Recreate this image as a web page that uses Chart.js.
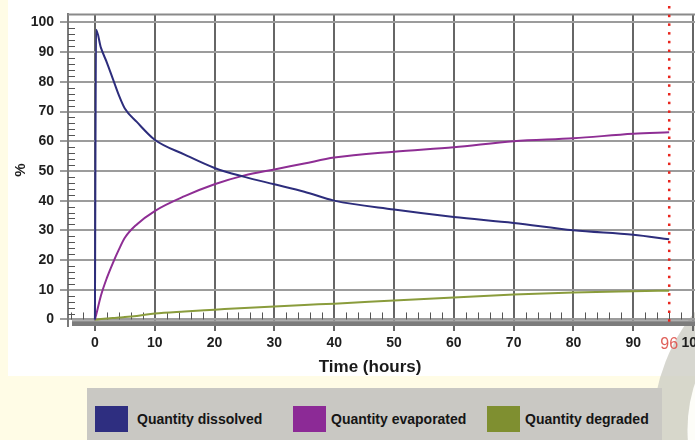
<!DOCTYPE html>
<html>
<head>
<meta charset="utf-8">
<script src="https://cdn.jsdelivr.net/npm/chart.js@4.4.0/dist/chart.umd.min.js"></script>
<style>
html, body { margin: 0; padding: 0; background: #fffce6; width: 695px; height: 440px; overflow: hidden; }
#wrap { position: relative; width: 695px; height: 440px; }
canvas { position: absolute; left: 0; top: 0; }
#legend { position: absolute; left: 87px; top: 388px; width: 575px; height: 60px; background: #c9c8c3;
          font: bold 14px "Liberation Sans", Arial, sans-serif; color: #151515; }
.sw { position: absolute; top: 18px; width: 33px; height: 26px; }
.lt { position: absolute; top: 22px; line-height: 18px; white-space: nowrap; }
</style>
</head>
<body>
<div id="wrap">
  <canvas id="myChart" width="760" height="440"></canvas>
  <div id="legend"></div>
</div>
<script>
// values
var timeHours  = [0, 0.2, 1, 2, 3, 4, 5, 7, 10, 15, 20, 25, 30, 35, 40, 50, 60, 70, 80, 90, 96];
var dissolved  = [0, 97.5, 91.5, 86.5, 81, 75.5, 71, 66.5, 60.5, 55.5, 51, 48, 45.5, 43, 40, 37, 34.5, 32.5, 30, 28.5, 27];
var evaporated = [0, 1.5, 8, 14, 19, 23.5, 27.5, 32, 36.5, 41.5, 45.5, 48.5, 50.5, 52.5, 54.5, 56.5, 58, 60, 61, 62.5, 63];
var degraded   = [0, 0, 0.15, 0.3, 0.5, 0.65, 0.8, 1.2, 2, 2.7, 3.3, 3.9, 4.4, 4.9, 5.3, 6.4, 7.4, 8.4, 9.1, 9.5, 9.7];

var seriesLabels = ['Quantity dissolved', 'Quantity evaporated', 'Quantity degraded'];
var xTicks = [0, 10, 20, 30, 40, 50, 60, 70, 80, 90, 96, 100];
var yTicks = [0, 10, 20, 30, 40, 50, 60, 70, 80, 90, 100];
var markerHour = 96;

function pts(ys) {
    return timeHours.map(function (t, i) { return {x: t, y: ys[i]}; });
}

var chartDecor = {
    id: 'chartDecor',
    beforeDraw: function (chart) {
        var c = chart.ctx;
        c.save();
        c.fillStyle = '#ffffff';
        c.fillRect(8, 0, chart.width, 376);
        // decorative ring in the corner, behind the chart
        c.beginPath();
        c.arc(838, 430, 151, 0, Math.PI * 2);
        c.fillStyle = '#fdfdf8';
        c.fill();
        c.beginPath();
        c.arc(838, 430, 168, 0, Math.PI * 2);
        c.lineWidth = 35;
        c.strokeStyle = 'rgba(205,205,196,0.8)';
        c.stroke();
        c.restore();
    },
    beforeDatasetsDraw: function (chart) {
        var c = chart.ctx, xs = chart.scales.x, ys = chart.scales.y, a = chart.chartArea;
        var y0 = ys.getPixelForValue(0);
        c.save();
        // grey band along the time axis
        c.fillStyle = '#7c7c7c';
        c.fillRect(a.left + 4, y0 + 1, a.right - a.left, a.bottom - y0 - 1);
        c.fillStyle = '#a8a8a8';
        c.fillRect(a.left + 4, y0 + 1, a.right - a.left, 1);
        // minor ticks
        c.strokeStyle = '#555';
        c.lineWidth = 1;
        for (var h = -4; h <= 104; h += 2) {
            if (h % 10 === 0) continue;
            var px = Math.round(xs.getPixelForValue(h)) + 0.5;
            c.beginPath(); c.moveTo(px, y0); c.lineTo(px, y0 - 7); c.stroke();
        }
        for (var v = 2; v <= 100; v += 2) {
            if (v % 10 === 0) continue;
            var py = Math.round(ys.getPixelForValue(v)) + 0.5;
            c.beginPath(); c.moveTo(a.left, py); c.lineTo(a.left + 7, py); c.stroke();
        }
        // top frame line
        c.strokeStyle = '#8a8a8a';
        c.lineWidth = 2;
        c.beginPath(); c.moveTo(a.left, a.top); c.lineTo(a.right, a.top); c.stroke();
        c.restore();
    },
    afterDatasetsDraw: function (chart) {
        var c = chart.ctx, xs = chart.scales.x, a = chart.chartArea;
        var px = xs.getPixelForValue(markerHour);
        c.save();
        c.fillStyle = '#e8241c';
        for (var y = 6; y < a.bottom; y += 8.7) {
            c.fillRect(px - 1.2, y, 2.5, 2.5);
        }
        c.restore();
    },
    afterDraw: function (chart) {
        var c = chart.ctx, xs = chart.scales.x;
        c.save();
        c.fillStyle = '#1a1a1a';
        c.font = 'bold 17px "Liberation Sans", Arial, sans-serif';
        c.textAlign = 'center';
        c.textBaseline = 'middle';
        c.fillText('Time (hours)', xs.getPixelForValue(46), 367);
        c.restore();
    }
};

var tickFont = {family: '"Liberation Sans", Arial, sans-serif', size: 14, weight: 'bold'};

var ctx = document.getElementById('myChart').getContext('2d');
var myChart = new Chart(ctx, {
    type: 'line',
    data: {
        datasets: [
            {
                label: seriesLabels[0],
                data: pts(dissolved),
                borderColor: '#2d2d7c',
                backgroundColor: '#2e2e80',
                borderWidth: 2,
                pointRadius: 0
            },
            {
                label: seriesLabels[1],
                data: pts(evaporated),
                borderColor: '#8e2e94',
                backgroundColor: '#8c2a96',
                borderWidth: 2,
                pointRadius: 0
            },
            {
                label: seriesLabels[2],
                data: pts(degraded),
                borderColor: '#8a9c3c',
                backgroundColor: '#7f8f30',
                borderWidth: 2,
                pointRadius: 0
            }
        ]
    },
    options: {
        responsive: false,
        animation: false,
        cubicInterpolationMode: 'monotone',
        layout: { padding: { left: 8, top: 10, right: 37, bottom: 84 } },
        scales: {
            x: {
                type: 'linear',
                min: -4.5,
                max: 105,
                afterBuildTicks: function (s) { s.ticks = xTicks.map(function (v) { return {value: v}; }); },
                afterFit: function (s) { s.height = 30; },
                grid: {
                    color: function (c) { return c.tick && c.tick.value === markerHour ? 'rgba(0,0,0,0)' : '#666'; },
                    lineWidth: 2,
                    tickLength: 5
                },
                border: { display: false },
                ticks: {
                    autoSkip: false,
                    maxRotation: 0,
                    padding: 4,
                    color: function (c) { return c.tick && c.tick.value === markerHour ? '#e0605a' : '#1e1e1e'; },
                    font: function (c) {
                        return c.tick && c.tick.value === markerHour
                            ? {family: '"Liberation Sans", Arial, sans-serif', size: 16, weight: 'normal'}
                            : tickFont;
                    }
                }
            },
            y: {
                min: -2.2,
                max: 102.7,
                afterBuildTicks: function (s) { s.ticks = yTicks.map(function (v) { return {value: v}; }); },
                afterFit: function (s) { s.width = 60; },
                grid: { color: '#9c9c9c', lineWidth: 2, tickLength: 8 },
                border: { display: true, color: '#7a7a7a', width: 2 },
                ticks: { padding: 6, color: '#1e1e1e', font: tickFont },
                title: {
                    display: true,
                    text: '%',
                    color: '#1e1e1e',
                    font: {family: '"Liberation Sans", Arial, sans-serif', size: 15, weight: 'bold'},
                    padding: { top: 4, bottom: 3 }
                }
            }
        },
        plugins: {
            legend: { display: false },
            tooltip: { enabled: false }
        }
    },
    plugins: [chartDecor]
});

// legend box below the chart
var legendPos = [[8, 50], [206, 244], [400, 438]];
var legendEl = document.getElementById('legend');
myChart.data.datasets.forEach(function (ds, i) {
    var sw = document.createElement('div');
    sw.className = 'sw';
    sw.style.left = legendPos[i][0] + 'px';
    sw.style.background = ds.backgroundColor;
    var lt = document.createElement('div');
    lt.className = 'lt';
    lt.style.left = legendPos[i][1] + 'px';
    lt.textContent = ds.label;
    legendEl.appendChild(sw);
    legendEl.appendChild(lt);
});
</script>
</body>
</html>
